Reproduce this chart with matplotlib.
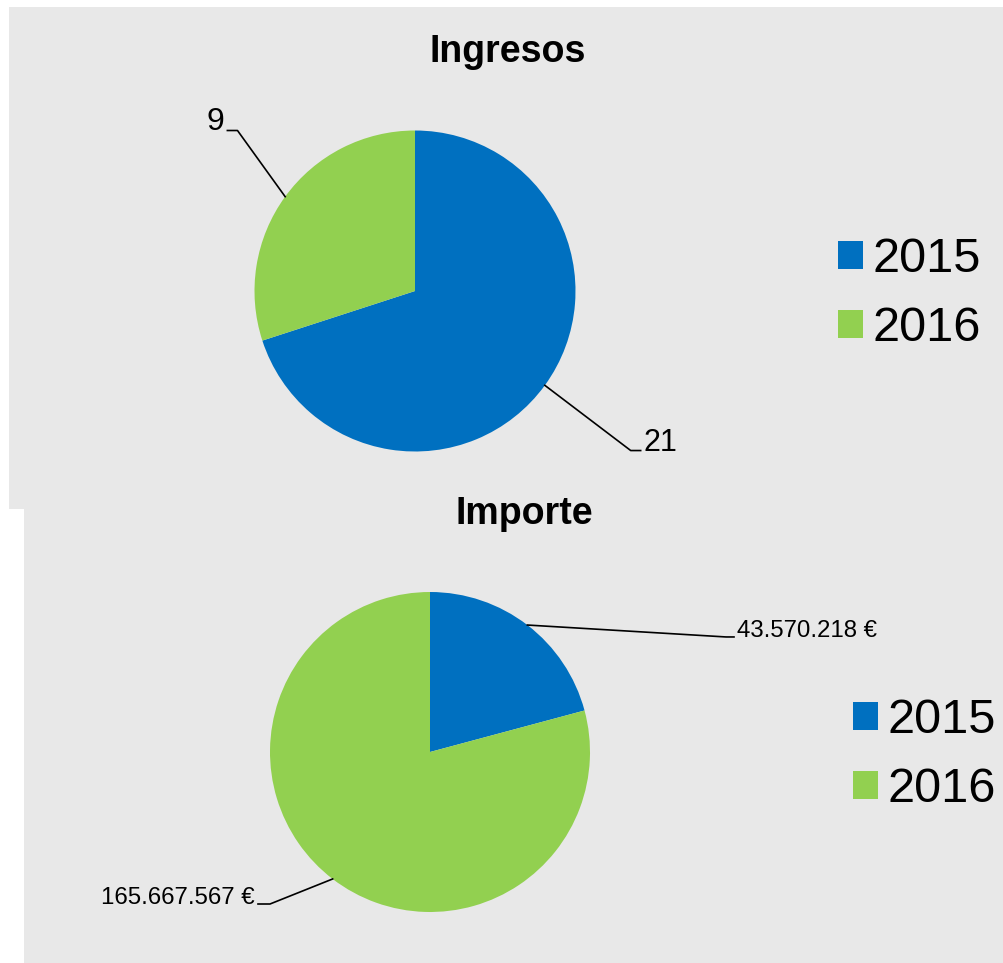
import matplotlib
matplotlib.use('Agg')
import matplotlib.pyplot as plt
import numpy as np
from matplotlib.patches import Rectangle

plt.rcParams['font.family'] = ['Liberation Sans', 'DejaVu Sans']

# data
years = ['2015', '2016']
colors = ['#0070C0', '#92D050']
ingresos = [21, 9]
importe = [43570218, 165667567]
ingresos_labels = ['21', '9']
importe_labels = ['43.570.218 €', '165.667.567 €']

W, H = 1004, 963
fig = plt.figure(figsize=(W / 100, H / 100), dpi=100)
fig.patch.set_facecolor('white')

# grey panels (behind the pies)
fig.patches.append(Rectangle((9 / W, 1 - 509 / H), 995 / W, 502 / H,
                             transform=fig.transFigure, facecolor='#e8e8e8',
                             edgecolor='none', zorder=-5))
fig.patches.append(Rectangle((24 / W, 0), 980 / W, 454 / H,
                             transform=fig.transFigure, facecolor='#e8e8e8',
                             edgecolor='none', zorder=-5))


def pie_axes(cx, cy, r, k=1.6):
    # axes in pixel layout, data units = pie radius
    ax = fig.add_axes([(cx - k * r) / W, 1 - (cy + k * r) / H, 2 * k * r / W, 2 * k * r / H])
    ax.set_aspect('equal')
    ax.axis('off')
    return ax


def leader(ax, wedge, bend, end, text, ha, fs):
    ang = np.deg2rad((wedge.theta1 + wedge.theta2) / 2)
    x0, y0 = np.cos(ang), np.sin(ang)
    ax.plot([x0, bend[0], end[0]], [y0, bend[1], end[1]], color='black',
            lw=1.2, clip_on=False)
    dx = 0.02 if ha == 'left' else -0.02
    ax.text(end[0] + dx, end[1], text, ha=ha, va='baseline', fontsize=fs,
            color='black')


# Ingresos
ax1 = pie_axes(415, 291, 160.5)
w1, _ = ax1.pie(ingresos, colors=colors, startangle=90, counterclock=False,
                radius=1, wedgeprops=dict(linewidth=0))
ax1.set_xlim(-1.6, 1.6)
ax1.set_ylim(-1.6, 1.6)
leader(ax1, w1[0], (1.344, -0.994), (1.406, -0.994), ingresos_labels[0], 'left', 22)
leader(ax1, w1[1], (-1.106, 1.0), (-1.169, 1.0), ingresos_labels[1], 'right', 23)
fig.text(508 / W, 1 - 62 / H, 'Ingresos', ha='center', va='baseline',
         fontsize=27, fontweight='bold')
fig.legend(w1, years, loc='center left', bbox_to_anchor=(838 / W, 1 - 294 / H),
           frameon=False, fontsize=35, handlelength=0.514, handleheight=0.514,
           handletextpad=0.2, labelspacing=0.5, borderpad=0, borderaxespad=0)

# Importe
ax2 = pie_axes(430, 752, 160)
w2, _ = ax2.pie(importe, colors=colors, startangle=90, counterclock=False,
                radius=1, wedgeprops=dict(linewidth=0))
ax2.set_xlim(-1.6, 1.6)
ax2.set_ylim(-1.6, 1.6)
leader(ax2, w2[0], (1.85, 0.719), (1.90, 0.719), importe_labels[0], 'left', 17.3)
leader(ax2, w2[1], (-1.0, -0.95), (-1.075, -0.95), importe_labels[1], 'right', 17.3)
fig.text(524 / W, 1 - 524 / H, 'Importe', ha='center', va='baseline',
         fontsize=27, fontweight='bold')
fig.legend(w2, years, loc='center left', bbox_to_anchor=(853 / W, 1 - 755 / H),
           frameon=False, fontsize=35, handlelength=0.514, handleheight=0.514,
           handletextpad=0.2, labelspacing=0.5, borderpad=0, borderaxespad=0)

fig.savefig('out.png', dpi=100, facecolor='white')
